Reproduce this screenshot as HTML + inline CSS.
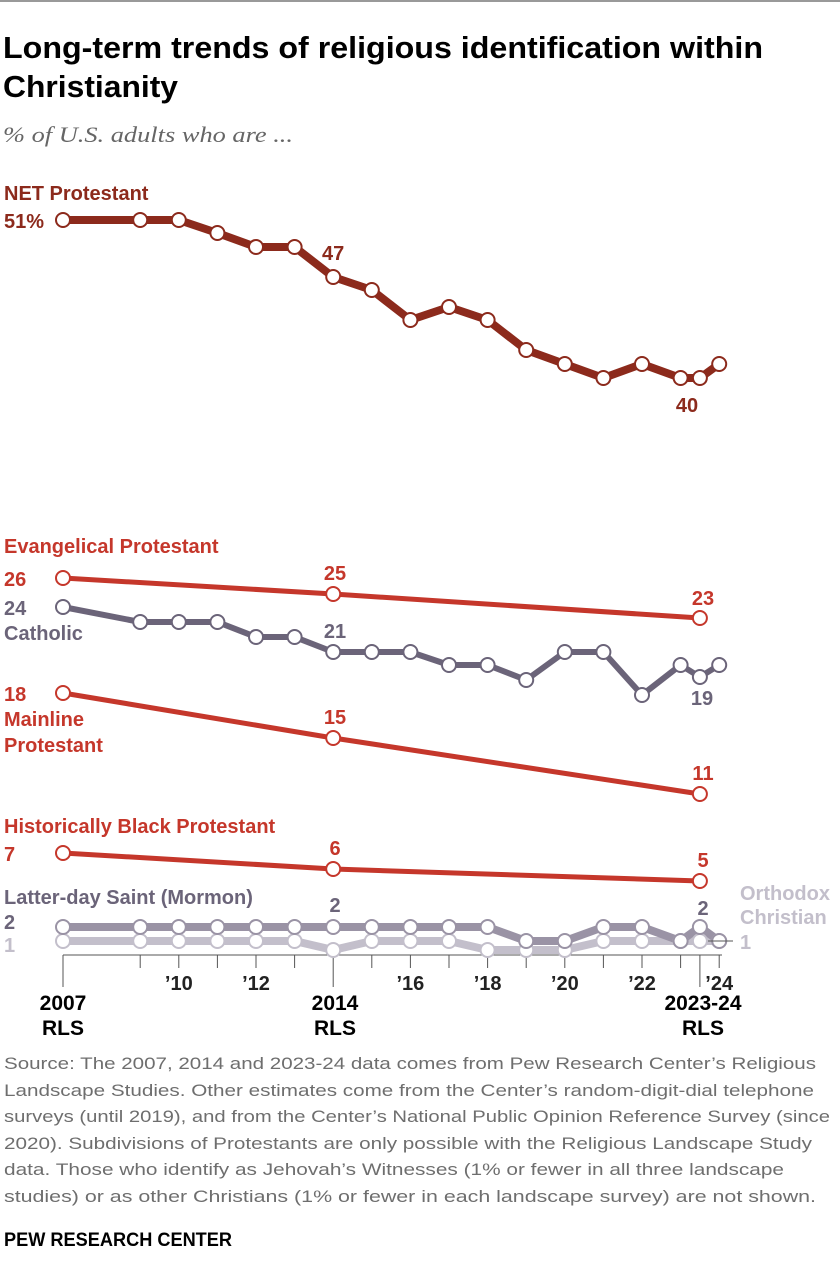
<!DOCTYPE html>
<html><head><meta charset="utf-8"><style>
html,body{margin:0;padding:0;background:#fff;}
svg{display:block;}
.c{font-family:"Liberation Sans Narrow","Liberation Sans",sans-serif;font-weight:bold;}
.f{font-family:"Liberation Sans",sans-serif;fill:#6e6e6e;font-size:17px;}
</style></head><body>
<svg id="s" width="840" height="1284" viewBox="0 0 840 1284" xmlns="http://www.w3.org/2000/svg">
<rect x="0" y="0" width="840" height="2" fill="#999"/>
<text class="c" x="3" y="58" font-size="31" textLength="760" lengthAdjust="spacingAndGlyphs" fill="#000">Long-term trends of religious identification within</text>
<text class="c" x="3" y="97" font-size="31" textLength="175" lengthAdjust="spacingAndGlyphs" fill="#000">Christianity</text>
<text x="3" y="142" font-family="Liberation Serif,serif" font-style="italic" font-size="22" fill="#666" textLength="290" lengthAdjust="spacingAndGlyphs">% of U.S. adults who are ...</text>

<g stroke="#555" stroke-width="1">
<line x1="63" y1="955" x2="722" y2="955"/>
</g>
<g id="ticks" stroke="#555" stroke-width="1"></g>
<g id="lines" fill="none" stroke-linejoin="round"></g>
<g id="dots" fill="#fff" stroke-width="2"></g>

<g class="c" font-size="20">
<text x="4" y="200" fill="#8c2a1c">NET Protestant</text>
<text x="4" y="228" fill="#8c2a1c">51%</text>
<text x="322" y="260" fill="#8c2a1c">47</text>
<text x="687" y="412" fill="#8c2a1c" text-anchor="middle">40</text>

<text x="4" y="553" fill="#c5372b">Evangelical Protestant</text>
<text x="4" y="586" fill="#c5372b">26</text>
<text x="335" y="580" fill="#c5372b" text-anchor="middle">25</text>
<text x="703" y="605" fill="#c5372b" text-anchor="middle">23</text>

<text x="4" y="615" fill="#6b6479">24</text>
<text x="4" y="640" fill="#6b6479">Catholic</text>
<text x="335" y="638" fill="#6b6479" text-anchor="middle">21</text>
<text x="702" y="705" fill="#6b6479" text-anchor="middle">19</text>

<text x="4" y="701" fill="#c5372b">18</text>
<text x="4" y="726" fill="#c5372b">Mainline</text>
<text x="4" y="752" fill="#c5372b">Protestant</text>
<text x="335" y="724" fill="#c5372b" text-anchor="middle">15</text>
<text x="703" y="780" fill="#c5372b" text-anchor="middle">11</text>

<text x="4" y="833" fill="#c5372b">Historically Black Protestant</text>
<text x="4" y="861" fill="#c5372b">7</text>
<text x="335" y="855" fill="#c5372b" text-anchor="middle">6</text>
<text x="703" y="867" fill="#c5372b" text-anchor="middle">5</text>

<text x="4" y="904" fill="#6b6479">Latter-day Saint (Mormon)</text>
<text x="4" y="929" fill="#6b6479">2</text>
<text x="4" y="952" fill="#c3bfcb">1</text>
<text x="335" y="912" fill="#6b6479" text-anchor="middle">2</text>
<text x="703" y="915" fill="#6b6479" text-anchor="middle">2</text>
<text x="740" y="900" fill="#c3bfcb">Orthodox</text>
<text x="740" y="924" fill="#c3bfcb">Christian</text>
<text x="740" y="949" fill="#c3bfcb">1</text>
</g>
<line x1="708" y1="941" x2="733" y2="941" stroke="#555"/>

<g id="xl" class="c" font-size="20" fill="#222" text-anchor="middle"></g>
<g class="c" font-size="21" fill="#000" text-anchor="middle">
<text x="63" y="1010">2007</text><text x="63" y="1035">RLS</text>
<text x="335" y="1010">2014</text><text x="335" y="1035">RLS</text>
<text x="703" y="1010">2023-24</text><text x="703" y="1035">RLS</text>
</g>

<g class="f">
<text x="4" y="1069" textLength="812" lengthAdjust="spacingAndGlyphs">Source: The 2007, 2014 and 2023-24 data comes from Pew Research Center’s Religious</text>
<text x="4" y="1096" textLength="810" lengthAdjust="spacingAndGlyphs">Landscape Studies. Other estimates come from the Center’s random-digit-dial telephone</text>
<text x="4" y="1122" textLength="826" lengthAdjust="spacingAndGlyphs">surveys (until 2019), and from the Center’s National Public Opinion Reference Survey (since</text>
<text x="4" y="1149" textLength="808" lengthAdjust="spacingAndGlyphs">2020). Subdivisions of Protestants are only possible with the Religious Landscape Study</text>
<text x="4" y="1175" textLength="780" lengthAdjust="spacingAndGlyphs">data. Those who identify as Jehovah’s Witnesses (1% or fewer in all three landscape</text>
<text x="4" y="1202" textLength="812" lengthAdjust="spacingAndGlyphs">studies) or as other Christians (1% or fewer in each landscape survey) are not shown.</text>
</g>
<text class="c" x="4" y="1246" font-size="19" fill="#000" textLength="228" lengthAdjust="spacingAndGlyphs">PEW RESEARCH CENTER</text>
</svg>
<script>
var NS="http://www.w3.org/2000/svg";
function X(y){return 63+(y-2007)*38.6;}
var yrs=[2007,2009,2010,2011,2012,2013,2014,2015,2016,2017,2018,2019,2020,2021,2022,2023,2023.5,2024];
var series=[
 {c:"#c3bfcb",w:8,d:yrs,v:[941,941,941,941,941,941,950,941,941,941,950,950,950,941,941,941,941,941]},
 {c:"#9a93a5",w:8,d:yrs,v:[927,927,927,927,927,927,927,927,927,927,927,941,941,927,927,941,927,941]},
 {c:"#8c2a1c",w:8,d:yrs,v:[220,220,220,233,247,247,277,290,320,307,320,350,364,378,364,378,378,364]},
 {c:"#6b6479",w:6,d:yrs,v:[607,622,622,622,637,637,652,652,652,665,665,680,652,652,695,665,677,665]},
 {c:"#c5372b",w:5,d:[2007,2014,2023.5],v:[578,594,618]},
 {c:"#c5372b",w:5,d:[2007,2014,2023.5],v:[693,738,794]},
 {c:"#c5372b",w:5,d:[2007,2014,2023.5],v:[853,869,881]}
];
var L=document.getElementById("lines"),D=document.getElementById("dots");
series.forEach(function(s){
 var p=s.d.map(function(y,i){return X(y).toFixed(1)+","+s.v[i];}).join(" ");
 var pl=document.createElementNS(NS,"polyline");pl.setAttribute("points",p);pl.setAttribute("stroke",s.c);pl.setAttribute("stroke-width",s.w);L.appendChild(pl);
 s.d.forEach(function(y,i){var c=document.createElementNS(NS,"circle");c.setAttribute("cx",X(y));c.setAttribute("cy",s.v[i]);c.setAttribute("r",7);c.setAttribute("stroke",s.c);D.appendChild(c);});
});
var T=document.getElementById("ticks");
yrs.forEach(function(y){
 var l=document.createElementNS(NS,"line");var big=(y==2007||y==2014||y==2023.5);
 l.setAttribute("x1",X(y));l.setAttribute("x2",X(y));l.setAttribute("y1",955);l.setAttribute("y2",big?987:968);T.appendChild(l);
});
var XL=document.getElementById("xl");
[[2010,"’10"],[2012,"’12"],[2016,"’16"],[2018,"’18"],[2020,"’20"],[2022,"’22"],[2024,"’24"]].forEach(function(a){
 var t=document.createElementNS(NS,"text");t.setAttribute("x",X(a[0]));t.setAttribute("y",990);t.textContent=a[1];XL.appendChild(t);
});
</script>
</body></html>
